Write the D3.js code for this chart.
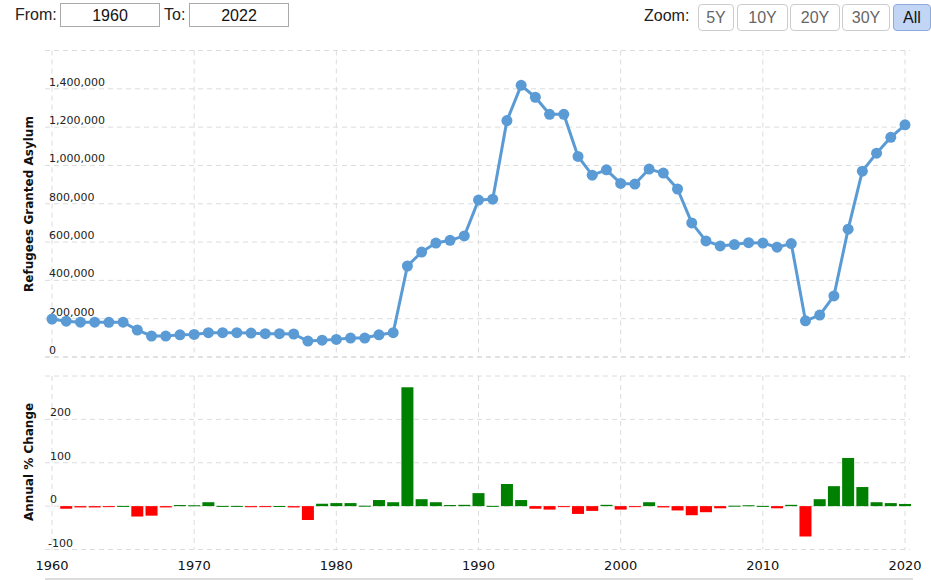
<!DOCTYPE html>
<html>
<head>
<meta charset="utf-8">
<script src="https://cdn.jsdelivr.net/npm/d3@7"></script>
<style>
  body { margin: 0; background: #fff; font-family: Arial, "Liberation Sans", sans-serif; }
  #chart { position: relative; width: 931px; height: 580px; }
  .ctl { position: absolute; font-size: 16px; color: #222; }
  .box { position: absolute; border: 1px solid #aaa; height: 24px; line-height: 24px; text-align: center; font-size: 16px; color: #111; box-sizing: border-box; }
  .btn { position: absolute; top: 4px; height: 27px; line-height: 25px; border: 1px solid #ccc; border-radius: 4px; text-align: center; font-size: 16px; color: #666; box-sizing: border-box; background: #fff; }
  .btn.on { background: #c2d5f5; border-color: #8ea9dc; color: #111; }
  svg { position: absolute; left: 0; top: 0; }
</style>
</head>
<body>
<div id="chart"></div>
<script>
// DATA
var years = [1960,1961,1962,1963,1964,1965,1966,1967,1968,1969,1970,1971,1972,1973,1974,1975,1976,1977,1978,1979,
  1980,1981,1982,1983,1984,1985,1986,1987,1988,1989,1990,1991,1992,1993,1994,1995,1996,1997,1998,1999,
  2000,2001,2002,2003,2004,2005,2006,2007,2008,2009,2010,2011,2012,2013,2014,2015,2016,2017,2018,2019,2020];

var refugees = [198000,187000,182000,182000,181000,182000,141000,109000,109000,116000,118000,127000,127000,127000,125000,122000,122000,120000,83000,88000,
  92000,99000,99000,116000,127000,475000,548000,595000,609000,632000,819000,824000,1234000,1418000,1356000,1267000,1267000,1047000,949000,977000,
  906000,903000,981000,960000,877000,700000,606000,580000,587000,597000,595000,573000,592000,189000,219000,319000,667000,970000,1064000,1147000,1212000];

var changeYears = years.slice(1);
var pctChange = [-6,-3,-3,-2,0.5,-24,-22,-3,2.5,2,9,0.5,0.5,-2.5,-2,0.3,-3,-32,5.5,
  7,7,1,14,9,274,16,9,2.5,3,30,0.6,51,14,-6,-8,-1,-18,-11,3,
  -8,-0.5,9,-3,-10,-21,-14,-5,1,2,0.5,-5,3,-70,16,46,111,44,9,7,5];

var topTicks = [0,200000,400000,600000,800000,1000000,1200000,1400000,1600000];
var botTicks = [-100,0,100,200,300];
var decadeTicks = [1960,1970,1980,1990,2000,2010,2020];

// CONTROLS ACROSS THE TOP
var chart = d3.select('#chart');
chart.append('div').attr('class', 'ctl').style('left', '15px').style('top', '6px').text('From:');
chart.append('div').attr('class', 'box').style('left', '60px').style('top', '3px').style('width', '100px').text('1960');
chart.append('div').attr('class', 'ctl').style('left', '164px').style('top', '6px').text('To:');
chart.append('div').attr('class', 'box').style('left', '189px').style('top', '3px').style('width', '100px').text('2022');
chart.append('div').attr('class', 'ctl').style('left', '644px').style('top', '7px').text('Zoom:');

var buttons = [['5Y', 698, 36], ['10Y', 737, 51], ['20Y', 790, 50], ['30Y', 842, 48], ['All', 893, 38]];
buttons.forEach(function(b) {
  chart.append('div')
    .attr('class', 'btn' + (b[0] == 'All' ? ' on' : ''))
    .style('left', b[1] + 'px')
    .style('width', b[2] + 'px')
    .text(b[0]);
});

// SVG + SCALES
var svg = chart.append('svg').attr('width', 931).attr('height', 580);

var x = d3.scaleLinear().domain([1960, 2020]).range([52, 905]);
var yTop = d3.scaleLinear().domain([0, 1600000]).range([357, 50.5]);
var yBot = d3.scaleLinear().domain([-100, 300]).range([549.5, 376]);

var gridColor = '#dcdcdc';
var fmt = d3.format(',');

// GRIDLINES
svg.selectAll('.vgrid-top')
  .data(decadeTicks)
  .enter()
  .append('line')
  .attr('x1', function(d) { return x(d); })
  .attr('x2', function(d) { return x(d); })
  .attr('y1', yTop(1600000))
  .attr('y2', yTop(0))
  .attr('stroke', gridColor)
  .attr('stroke-dasharray', '5,4');

svg.selectAll('.vgrid-bot')
  .data(decadeTicks)
  .enter()
  .append('line')
  .attr('x1', function(d) { return x(d); })
  .attr('x2', function(d) { return x(d); })
  .attr('y1', yBot(300))
  .attr('y2', yBot(-100))
  .attr('stroke', gridColor)
  .attr('stroke-dasharray', '5,4');

svg.selectAll('.hgrid-top')
  .data(topTicks)
  .enter()
  .append('line')
  .attr('x1', 45)
  .attr('x2', 910)
  .attr('y1', function(d) { return yTop(d); })
  .attr('y2', function(d) { return yTop(d); })
  .attr('stroke', function(d) { return d == 0 ? '#c4c4c4' : gridColor; })
  .attr('stroke-dasharray', '5,4');

svg.selectAll('.hgrid-bot')
  .data(botTicks)
  .enter()
  .append('line')
  .attr('x1', 45)
  .attr('x2', 910)
  .attr('y1', function(d) { return yBot(d); })
  .attr('y2', function(d) { return yBot(d); })
  .attr('stroke', gridColor)
  .attr('stroke-dasharray', '5,4');

// Y TICK LABELS (sit just above gridline)
svg.selectAll('.ylab-top')
  .data(topTicks.filter(function(d) { return d < 1600000; }))
  .enter()
  .append('text')
  .attr('x', 49)
  .attr('y', function(d) { return yTop(d) - 3; })
  .attr('font-family', '"DejaVu Sans", Verdana, sans-serif')
  .attr('font-size', 11)
  .attr('fill', '#222')
  .text(function(d) { return fmt(d); });

svg.selectAll('.ylab-bot')
  .data(botTicks.filter(function(d) { return d < 300; }))
  .enter()
  .append('text')
  .attr('x', function(d) { return d < 0 ? 48 : 50; })
  .attr('y', function(d) { return yBot(d) - 3; })
  .attr('font-family', '"DejaVu Sans", Verdana, sans-serif')
  .attr('font-size', 11)
  .attr('fill', '#222')
  .text(function(d) { return d; });

// X TICK LABELS
svg.selectAll('.xlab')
  .data(decadeTicks)
  .enter()
  .append('text')
  .attr('x', function(d) { return x(d); })
  .attr('y', 570)
  .attr('text-anchor', 'middle')
  .attr('font-family', '"DejaVu Sans", Verdana, sans-serif')
  .attr('font-size', 13)
  .attr('fill', '#111')
  .text(function(d) { return d; });

// AXIS TITLES
svg.append('text')
  .attr('transform', 'translate(33,204) rotate(-90)')
  .attr('text-anchor', 'middle')
  .attr('font-family', '"DejaVu Sans", Verdana, sans-serif')
  .attr('font-weight', 'bold')
  .attr('font-size', 12)
  .attr('fill', '#111')
  .text('Refugees Granted Asylum');

svg.append('text')
  .attr('transform', 'translate(33,462) rotate(-90)')
  .attr('text-anchor', 'middle')
  .attr('font-family', '"DejaVu Sans", Verdana, sans-serif')
  .attr('font-weight', 'bold')
  .attr('font-size', 12)
  .attr('fill', '#111')
  .text('Annual % Change');

// BARS
svg.selectAll('.bar')
  .data(pctChange)
  .enter()
  .append('rect')
  .attr('x', function(d, i) { return x(changeYears[i]) - 6; })
  .attr('width', 12)
  .attr('y', function(d) { return yBot(Math.max(d, 0)); })
  .attr('height', function(d) { return Math.max(Math.abs(yBot(d) - yBot(0)), 1); })
  .attr('fill', function(d) { return d >= 0 ? '#008000' : '#ff0000'; });

// LINE + MARKERS
var line = d3.line()
  .x(function(d, i) { return x(years[i]); })
  .y(function(d) { return yTop(d); });

svg.append('path')
  .datum(refugees)
  .attr('d', line)
  .attr('fill', 'none')
  .attr('stroke', '#5b9bd5')
  .attr('stroke-width', 3)
  .attr('stroke-linejoin', 'round');

svg.selectAll('.dot')
  .data(refugees)
  .enter()
  .append('circle')
  .attr('cx', function(d, i) { return x(years[i]); })
  .attr('cy', function(d) { return yTop(d); })
  .attr('r', 5.5)
  .attr('fill', '#5b9bd5');

// BOTTOM NAVIGATOR EDGE
svg.append('rect')
  .attr('x', 45)
  .attr('y', 578)
  .attr('width', 868)
  .attr('height', 2)
  .attr('fill', '#ddd');
</script>
</body>
</html>
